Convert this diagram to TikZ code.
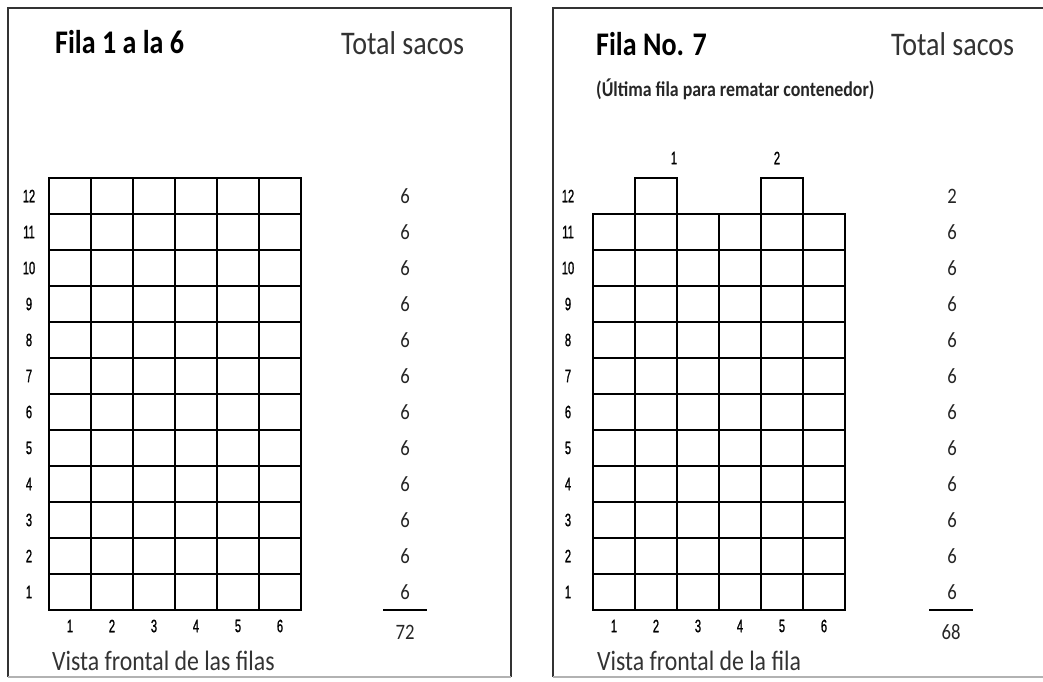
\documentclass[tikz,border=0pt]{standalone}
\usepackage{fontspec}
\setmainfont{Carlito}
\newfontfamily\cf[FakeStretch=0.85]{Carlito}
\newfontfamily\nf[FakeStretch=0.62,FakeBold=1]{Liberation Sans}
\begin{document}
\begin{tikzpicture}[x=1pt,y=-1pt,
  cell/.style={draw=black,line width=2pt},
  frame/.style={draw=black!80,line width=1.6pt},
  bframe/.style={draw=black!30,line width=1.2pt},
  titlet/.style={font=\cf\bfseries\fontsize{33}{35}\selectfont,anchor=base west,inner sep=0pt,text=black},
  headt/.style={font=\cf\fontsize{33}{35}\selectfont,anchor=base west,inner sep=0pt,text=black!80},
  subt/.style={font=\cf\bfseries\fontsize{21}{23}\selectfont,anchor=base west,inner sep=0pt,text=black!85},
  foott/.style={font=\cf\fontsize{28}{30}\selectfont,anchor=base west,inner sep=0pt,text=black!80},
  numlab/.style={font=\nf\fontsize{18}{19}\selectfont,inner sep=0pt,text=black},
  totlab/.style={font=\cf\fontsize{22}{23}\selectfont,inner sep=0pt,text=black!85},
  sumline/.style={draw=black,line width=1.6pt}]
\useasboundingbox (0,0) rectangle (1043,681);
\fill[white] (0,0) rectangle (1043,681);

% ---------- left panel ----------
\draw[frame] (8,677) -- (8,8) -- (511,8) -- (511,677);
\draw[bframe] (8,677) -- (511,677);
\node[titlet] (t1) at (55,53) {Fila 1 a la 6};
\node[headt] (h1) at (341,54) {Total sacos};
\foreach \r in {1,...,12}{
  \foreach \c in {1,...,6}{
    \draw[cell] (49+42*\c-42, 610-36*\r) rectangle +(42,36);
  }
  \node[numlab] (lr\r) at (29,{610-36*(\r-0.5)}) {\r};
  \node[totlab] (lt\r) at (405,{610-36*(\r-0.5)}) {6};
}
\foreach \c in {1,...,6}{
  \node[numlab] (lc\c) at (49+42*\c-21,626) {\c};
}
\coordinate (ls1) at (383,610);
\coordinate (ls2) at (427,610);
\draw[sumline] (ls1) -- (ls2);
\node[totlab] (lsum) at (405,632) {72};
\node[foott] (f1) at (52,670) {Vista frontal de las filas};

% ---------- right panel ----------
\draw[frame] (553,677) -- (553,8) -- (1043,8);
\draw[bframe] (553,677) -- (1043,677);
\node[titlet] (t2) at (596,55) {Fila No. 7};
\node[headt] (h2) at (891,55) {Total sacos};
\node[subt] (s2) at (596,96) {(Última fila para rematar contenedor)};
\foreach \r in {1,...,11}{
  \foreach \c in {1,...,6}{
    \draw[cell] (593+42*\c-42, 610-36*\r) rectangle +(42,36);
  }
}
\draw[cell] (635,178) rectangle (677,214);
\draw[cell] (761,178) rectangle (803,214);
\node[numlab] (tb1) at (674,158) {1};
\node[numlab] (tb2) at (777,158) {2};
\foreach \r in {1,...,12}{
  \node[numlab] (rr\r) at (568,{610-36*(\r-0.5)}) {\r};
}
\foreach \r in {1,...,11}{
  \node[totlab] (rt\r) at (952,{610-36*(\r-0.5)}) {6};
}
\node[totlab] (rt12) at (952,{610-36*11.5}) {2};
\foreach \c in {1,...,6}{
  \node[numlab] (rc\c) at (593+42*\c-21,626) {\c};
}
\coordinate (rs1) at (929,610);
\coordinate (rs2) at (973,610);
\draw[sumline] (rs1) -- (rs2);
\node[totlab] (rsum) at (951,632) {68};
\node[foott] (f2) at (597,670) {Vista frontal de la fila};
\end{tikzpicture}
\end{document}
